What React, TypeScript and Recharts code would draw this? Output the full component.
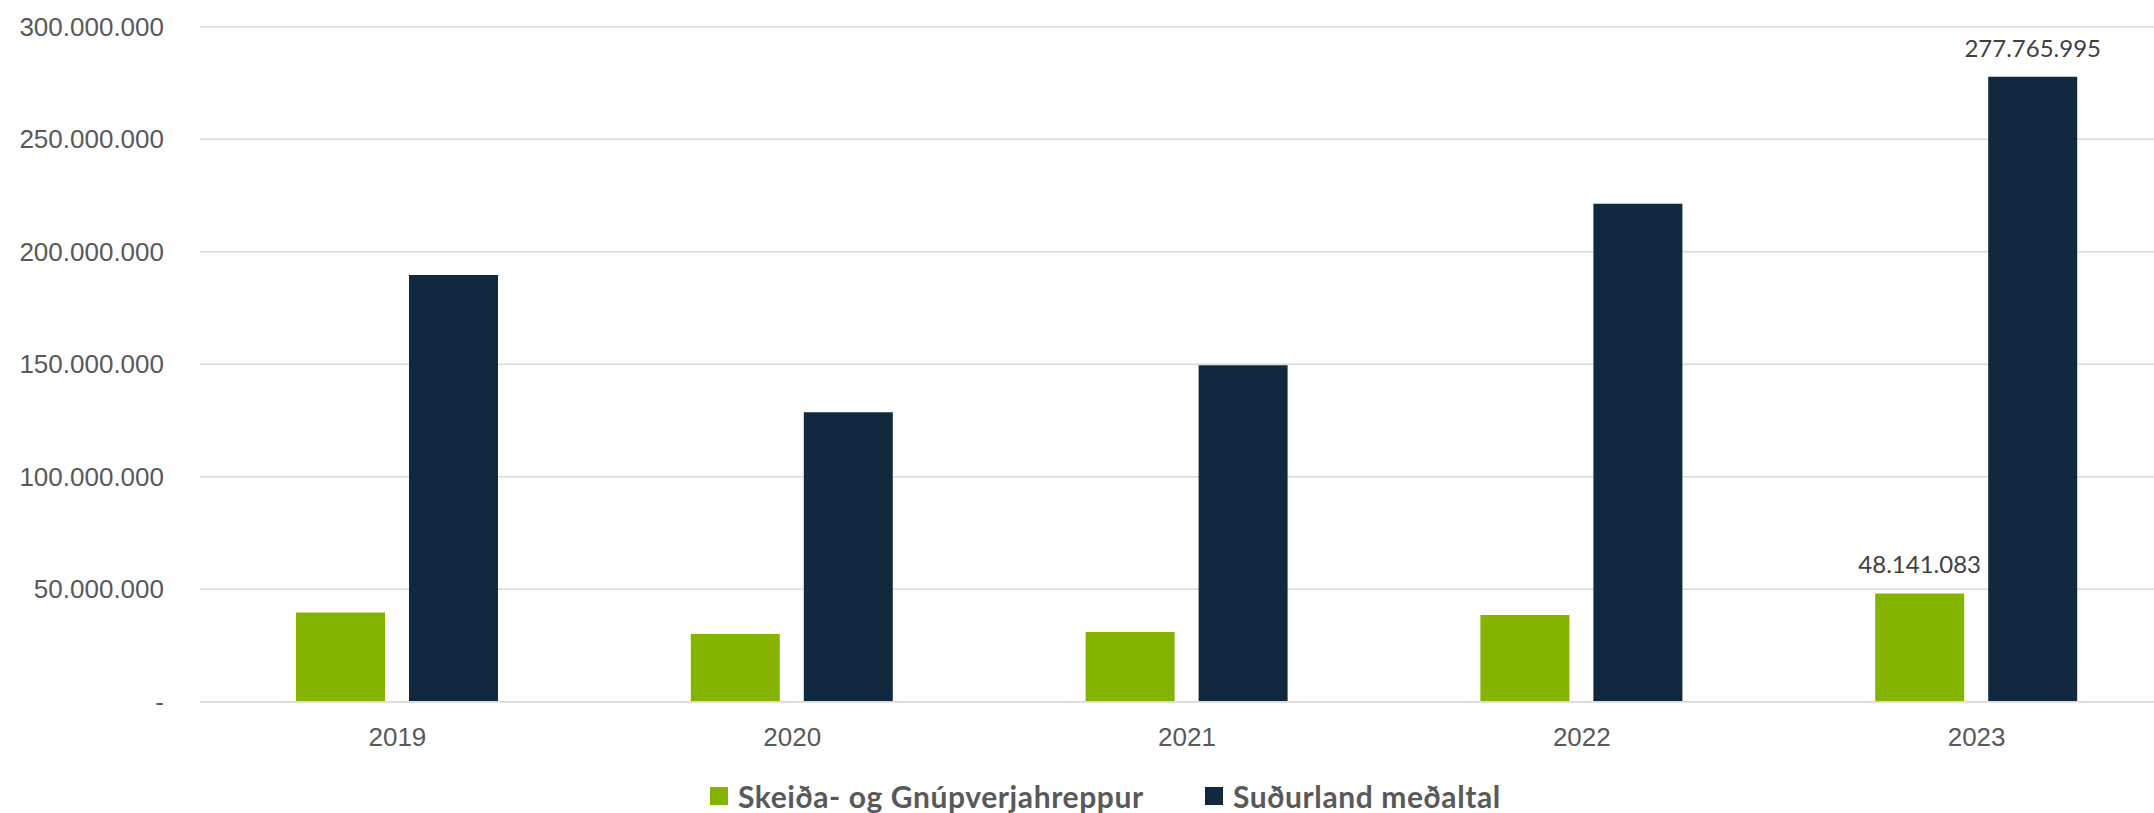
import React from "react"
import { BarChart, Bar, XAxis, YAxis, CartesianGrid, Legend, LabelList } from "recharts"

const years = ["2019", "2020", "2021", "2022", "2023"]
const skeidaValues = [39600000, 30100000, 31000000, 38500000, 48141083]
const sudurlandValues = [189600000, 128600000, 149500000, 221300000, 277765995]
const yTicks = [0, 50000000, 100000000, 150000000, 200000000, 250000000, 300000000]
// only the last year carries a data label in the original
const labelledYear = "2023"

const seriesNames = {
  skeida: "Skeiða- og Gnúpverjahreppur",
  sudurland: "Suðurland meðaltal",
}

const GREEN = "#84b400"
const NAVY = "#10293f"

const data = years.map((year, i) => ({
  year,
  skeida: skeidaValues[i],
  sudurland: sudurlandValues[i],
  skeidaLabel: year === labelledYear ? skeidaValues[i] : null,
  sudurlandLabel: year === labelledYear ? sudurlandValues[i] : null,
}))

const formatNumber = (n: number) =>
  String(Math.round(n)).replace(/\B(?=(\d{3})+(?!\d))/g, ".")

const yTickFormat = (v: number) => (v === 0 ? "-" : formatNumber(v))

function LegendContent() {
  const item = (color: string, name: string, width?: number) => (
    <div style={{ display: "flex", alignItems: "center", width }}>
      <span style={{ width: 18, height: 18, background: color, marginRight: 10, display: "inline-block" }} />
      <span>{name}</span>
    </div>
  )
  return (
    <div
      style={{
        height: 50,
        paddingTop: 15,
        boxSizing: "border-box",
        paddingLeft: 710,
        display: "flex",
        alignItems: "center",
        fontFamily: "Lato, sans-serif",
        fontWeight: 700,
        fontSize: 30,
        letterSpacing: 0.6,
        color: "#595959",
        lineHeight: "28px",
      }}
    >
      {item(GREEN, seriesNames.skeida, 495)}
      {item(NAVY, seriesNames.sudurland)}
    </div>
  )
}

export default function App() {
  return (
    <div style={{ position: "absolute", left: 0, top: 0, width: 2154, height: 813, overflow: "hidden", background: "#fff" }}>
      <BarChart
        width={2174}
        height={813}
        data={data}
        margin={{ top: 26.7, right: 0, left: 0, bottom: 0 }}
        barSize={89}
        barGap={24}
      >
        <CartesianGrid vertical={false} stroke="#d9d9d9" strokeWidth={1.5} />
        <XAxis
          dataKey="year"
          height={61.3}
          axisLine={{ stroke: "#d9d9d9", strokeWidth: 1.5 }}
          tickLine={false}
          tickSize={0}
          tickMargin={26}
          tick={{ fill: "#595959", fontSize: 26, fontFamily: "'Liberation Sans', Arial, sans-serif" }}
        />
        <YAxis
          width={200}
          domain={[0, 300000000]}
          ticks={yTicks}
          tickFormatter={yTickFormat}
          axisLine={false}
          tickLine={false}
          tickSize={0}
          tickMargin={36}
          tick={{ fill: "#595959", fontSize: 26, fontFamily: "'Liberation Sans', Arial, sans-serif" }}
        />
        <Legend verticalAlign="bottom" height={50} content={() => <LegendContent />} />
        <Bar dataKey="skeida" name={seriesNames.skeida} fill={GREEN} isAnimationActive={false}>
          <LabelList
            dataKey="skeidaLabel"
            position="top"
            offset={20}
            formatter={(v: any) => (v == null ? "" : formatNumber(v))}
            style={{ fill: "#404040", fontSize: 24, fontFamily: "Lato, sans-serif" }}
          />
        </Bar>
        <Bar dataKey="sudurland" name={seriesNames.sudurland} fill={NAVY} isAnimationActive={false}>
          <LabelList
            dataKey="sudurlandLabel"
            position="top"
            offset={20}
            formatter={(v: any) => (v == null ? "" : formatNumber(v))}
            style={{ fill: "#404040", fontSize: 24, fontFamily: "Lato, sans-serif" }}
          />
        </Bar>
      </BarChart>
    </div>
  )
}
